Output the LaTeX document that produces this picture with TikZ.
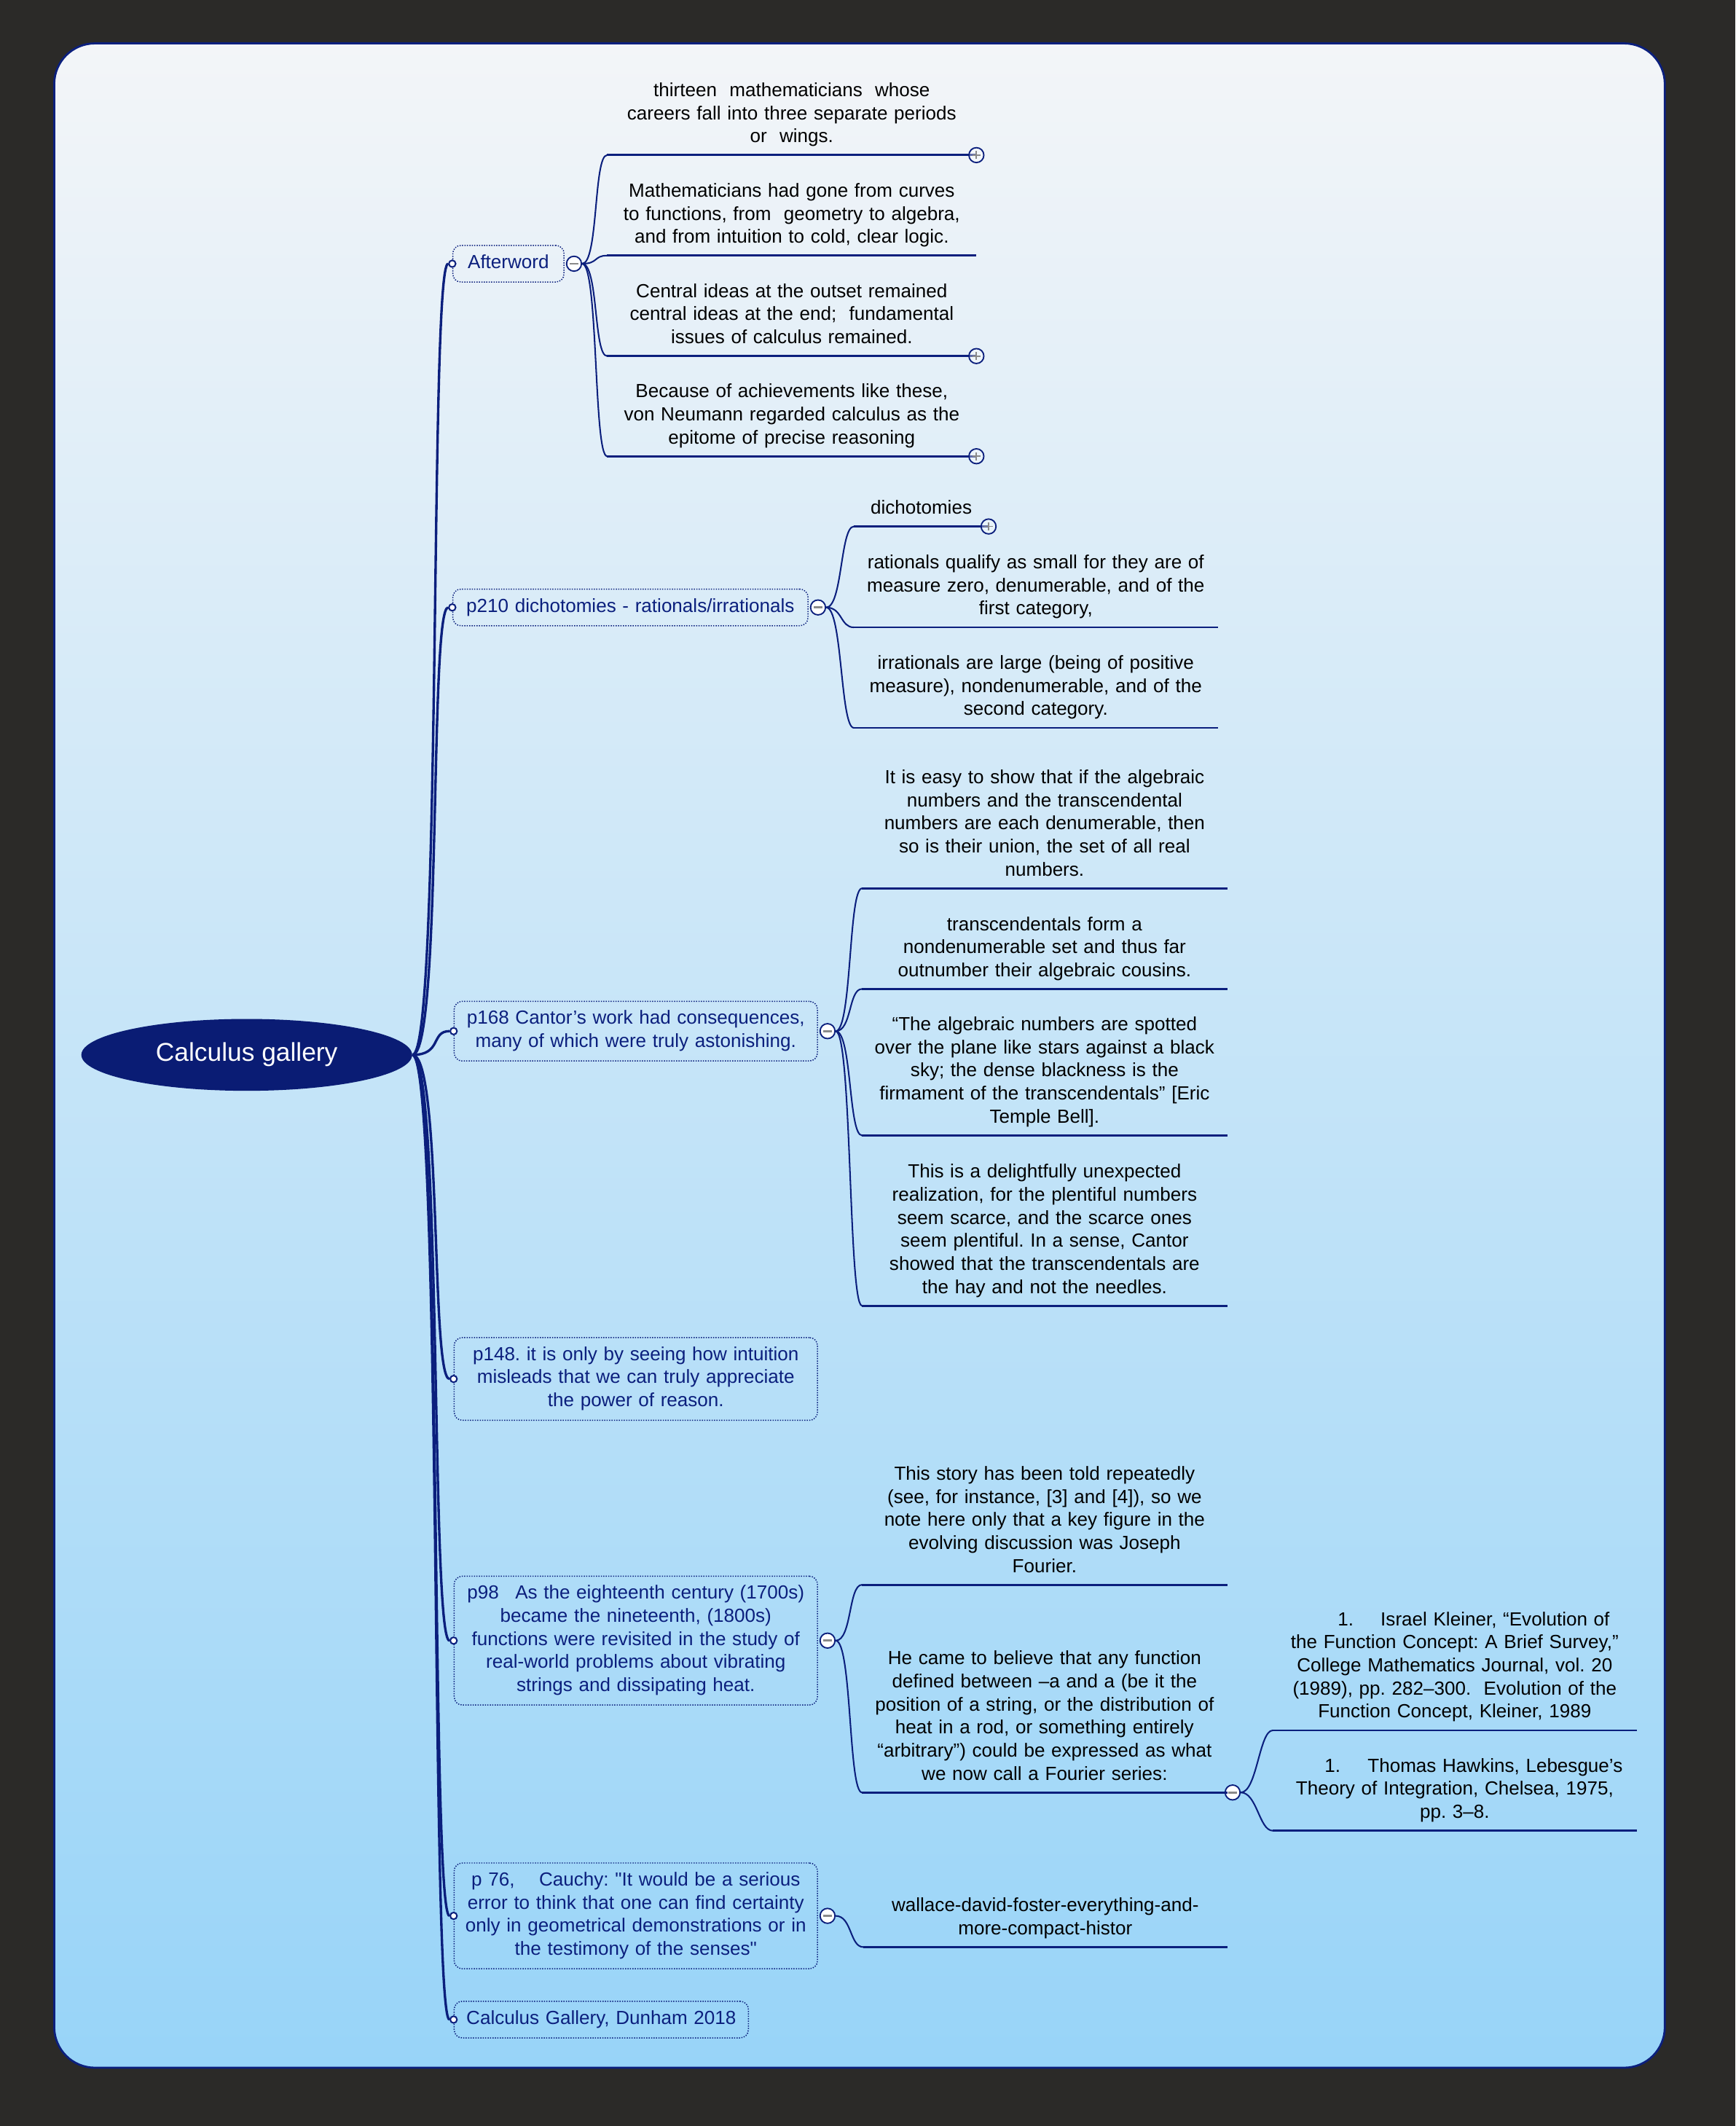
\documentclass[tikz,border=0pt]{standalone}
\usepackage{fontspec}
\setmainfont{Liberation Sans}[Ligatures=TeXOff]
\usetikzlibrary{shapes.geometric}

\definecolor{bgdark}{HTML}{2B2A28}
\definecolor{paneltop}{HTML}{F3F5F8}
\definecolor{panelbot}{HTML}{98D4F8}
\definecolor{mmnavy}{HTML}{0B1F7D}
\definecolor{rootnavy}{HTML}{0A1C74}
\definecolor{markgray}{HTML}{8A8A8A}

\newcommand{\rootfont}{\fontsize{19}{23}\selectfont}
\newcommand{\topicfont}{\fontsize{14}{17}\selectfont}
\frenchspacing

\tikzset{
  rootnode/.style={ellipse, fill=rootnavy, text=white, font=\rootfont,
    minimum width=244pt, minimum height=53pt, inner sep=0pt},
  topic/.style={draw=mmnavy, densely dotted, line width=0.8pt, rounded corners=6pt,
    text=mmnavy, font=\topicfont, align=center, inner xsep=4pt, inner ysep=5pt,
    execute at begin node=\strut, execute at end node=\strut},
  leaf/.style={anchor=south, inner sep=0pt, align=center, font=\topicfont, text=black,
    execute at end node={\rule[-9pt]{0pt}{9pt}}},
  inmark/.style={circle, draw=mmnavy, fill=white, line width=1.1pt, inner sep=0pt, minimum size=5pt},
  minusmark/.style={circle, draw=mmnavy, fill=white, line width=1pt, inner sep=0pt, minimum size=11pt,
    path picture={\draw[markgray, line width=1.5pt]
      ([xshift=-3pt]path picture bounding box.center) -- ([xshift=3pt]path picture bounding box.center);}},
  plusmark/.style={circle, draw=mmnavy, fill=white, fill opacity=0.35, line width=1pt, inner sep=0pt, minimum size=11pt,
    path picture={\draw[markgray, line width=0.9pt]
      ([xshift=-3pt]path picture bounding box.center) -- ([xshift=3pt]path picture bounding box.center)
      ([yshift=-3pt]path picture bounding box.center) -- ([yshift=3pt]path picture bounding box.center);}},
  rootlink/.style={draw=mmnavy, line width=1.8pt},
  leaflink/.style={draw=mmnavy, line width=1.1pt},
  underline/.style={draw=mmnavy, line width=1.5pt}
}

\begin{document}
\begin{tikzpicture}[x=1pt, y=-1pt]
% background and panel
\fill[bgdark] (0,0) rectangle (1280,1568);
\useasboundingbox (0,0) rectangle (1280,1568);
\shade[top color=paneltop, bottom color=panelbot, rounded corners=30pt] (40,32) rectangle (1228,1525);
\draw[mmnavy, line width=1.5pt, rounded corners=30pt] (40,32) rectangle (1228,1525);

% central topic
\node[rootnode] (root) at (182,778) {Calculus gallery};

% main topics
\node[topic, text width=74pt] (aw) at (375,194.5) {Afterword};
\node[topic, text width=254pt] (dich) at (465,448) {p210 dichotomies - rationals/irrationals};
\node[topic, text width=260pt] (cant) at (469,760.5) {p168 Cantor’s work had consequences,\\ many of which were truly astonishing.};
\node[topic, text width=260pt] (intu) at (469,1017) {p148. it is only by seeing how intuition\\ misleads that we can truly appreciate\\ the power of reason.};
\node[topic, text width=260pt] (fn) at (469,1210) {p98\hspace{12pt}As the eighteenth century (1700s)\\ became the nineteenth, (1800s)\\ functions were revisited in the study of\\ real-world problems about vibrating\\ strings and dissipating heat.};
\node[topic, text width=260pt] (cauchy) at (469,1413) {p 76,\hspace{18pt}Cauchy: "It would be a serious\\ error to think that one can find certainty\\ only in geometrical demonstrations or in\\ the testimony of the senses"};
\node[topic, text width=209pt] (book) at (443.5,1489.5) {Calculus Gallery, Dunham 2018};

% subtopics
\node[leaf, text width=272pt] (aw1) at (584,114.4) {thirteen\ \ mathematicians\ \ whose\\ careers fall into three separate periods\\ or\ \ wings.};
\node[leaf, text width=272pt] (aw2) at (584,188.5) {Mathematicians had gone from curves\\ to functions, from\ \ geometry to algebra,\\ and from intuition to cold, clear logic.};
\node[leaf, text width=272pt] (aw3) at (584,262.6) {Central ideas at the outset remained\\ central ideas at the end;\ \ fundamental\\ issues of calculus remained.};
\node[leaf, text width=272pt] (aw4) at (584,336.5) {Because of achievements like these,\\ von Neumann regarded calculus as the\\ epitome of precise reasoning};

\node[leaf, text width=99pt] (dich1) at (679.5,388.3) {dichotomies};
\node[leaf, text width=268pt] (dich2) at (764,462.7) {rationals qualify as small for they are of\\ measure zero, denumerable, and of the\\ first category,};
\node[leaf, text width=268pt] (dich3) at (764,536.8) {irrationals are large (being of positive\\ measure), nondenumerable, and of the\\ second category.};

\node[leaf, text width=269pt] (cant1) at (770.5,655.2) {It is easy to show that if the algebraic\\ numbers and the transcendental\\ numbers are each denumerable, then\\ so is their union, the set of all real\\ numbers.};
\node[leaf, text width=269pt] (cant2) at (770.5,729.4) {transcendentals form a\\ nondenumerable set and thus far\\ outnumber their algebraic cousins.};
\node[leaf, text width=269pt] (cant3) at (770.5,837.4) {“The algebraic numbers are spotted\\ over the plane like stars against a black\\ sky; the dense blackness is the\\ firmament of the transcendentals” [Eric\\ Temple Bell].};
\node[leaf, text width=269pt] (cant4) at (770.5,963) {This is a delightfully unexpected\\ realization, for the plentiful numbers\\ seem scarce, and the scarce ones\\ seem plentiful. In a sense, Cantor\\ showed that the transcendentals are\\ the hay and not the needles.};

\node[leaf, text width=269pt] (fn1) at (770.5,1168.8) {This story has been told repeatedly\\ (see, for instance, [3] and [4]), so we\\ note here only that a key figure in the\\ evolving discussion was Joseph\\ Fourier.};
\node[leaf, text width=269pt] (fn2) at (770.5,1322) {He came to believe that any function\\ defined between –a and a (be it the\\ position of a string, or the distribution of\\ heat in a rod, or something entirely\\ “arbitrary”) could be expressed as what\\ we now call a Fourier series:};
\node[leaf, text width=268pt] (kle) at (1073,1276.2) {\hspace*{28pt}1.\hspace{20pt}Israel Kleiner, “Evolution of\\ the Function Concept: A Brief Survey,”\\ College Mathematics Journal, vol. 20\\ (1989), pp. 282–300.\ \ Evolution of the\\ Function Concept, Kleiner, 1989};
\node[leaf, text width=268pt] (haw) at (1073,1350.2) {\hspace*{28pt}1.\hspace{20pt}Thomas Hawkins, Lebesgue’s\\ Theory of Integration, Chelsea, 1975,\\ pp. 3–8.};

\node[leaf, text width=268pt] (wal) at (771,1436) {wallace-david-foster-everything-and-\\ more-compact-histor};

% collapse markers
\foreach \n in {aw,dich,cant,intu,fn,cauchy,book}
  \node[inmark] (\n-in) at (\n.west) {};
\foreach \n in {aw,dich,cant,fn,cauchy}
  \node[minusmark] (\n-out) at ([xshift=7pt]\n.east) {};
\node[minusmark] (fn2-out) at ([xshift=4pt]fn2.south east) {};

% connectors
\foreach \n in {aw,dich,cant,intu,fn,cauchy,book}
  \draw[rootlink] (root.east) .. controls +(22,0) and +(-14,0) .. (\n-in.west);
\foreach \p/\c in {aw/aw1,aw/aw2,aw/aw3,aw/aw4,dich/dich1,dich/dich2,dich/dich3,
    cant/cant1,cant/cant2,cant/cant3,cant/cant4,fn/fn1,fn/fn2,fn2/kle,fn2/haw,cauchy/wal} {
  \draw[leaflink] (\p-out.east) .. controls +(12,0) and +(-10,0) .. (\c.south west);
  \draw[underline] (\c.south west) -- (\c.south east);
}
\foreach \c in {aw1,aw3,aw4,dich1}
  \node[plusmark] (\c-more) at (\c.south east) {};
\end{tikzpicture}
\end{document}
